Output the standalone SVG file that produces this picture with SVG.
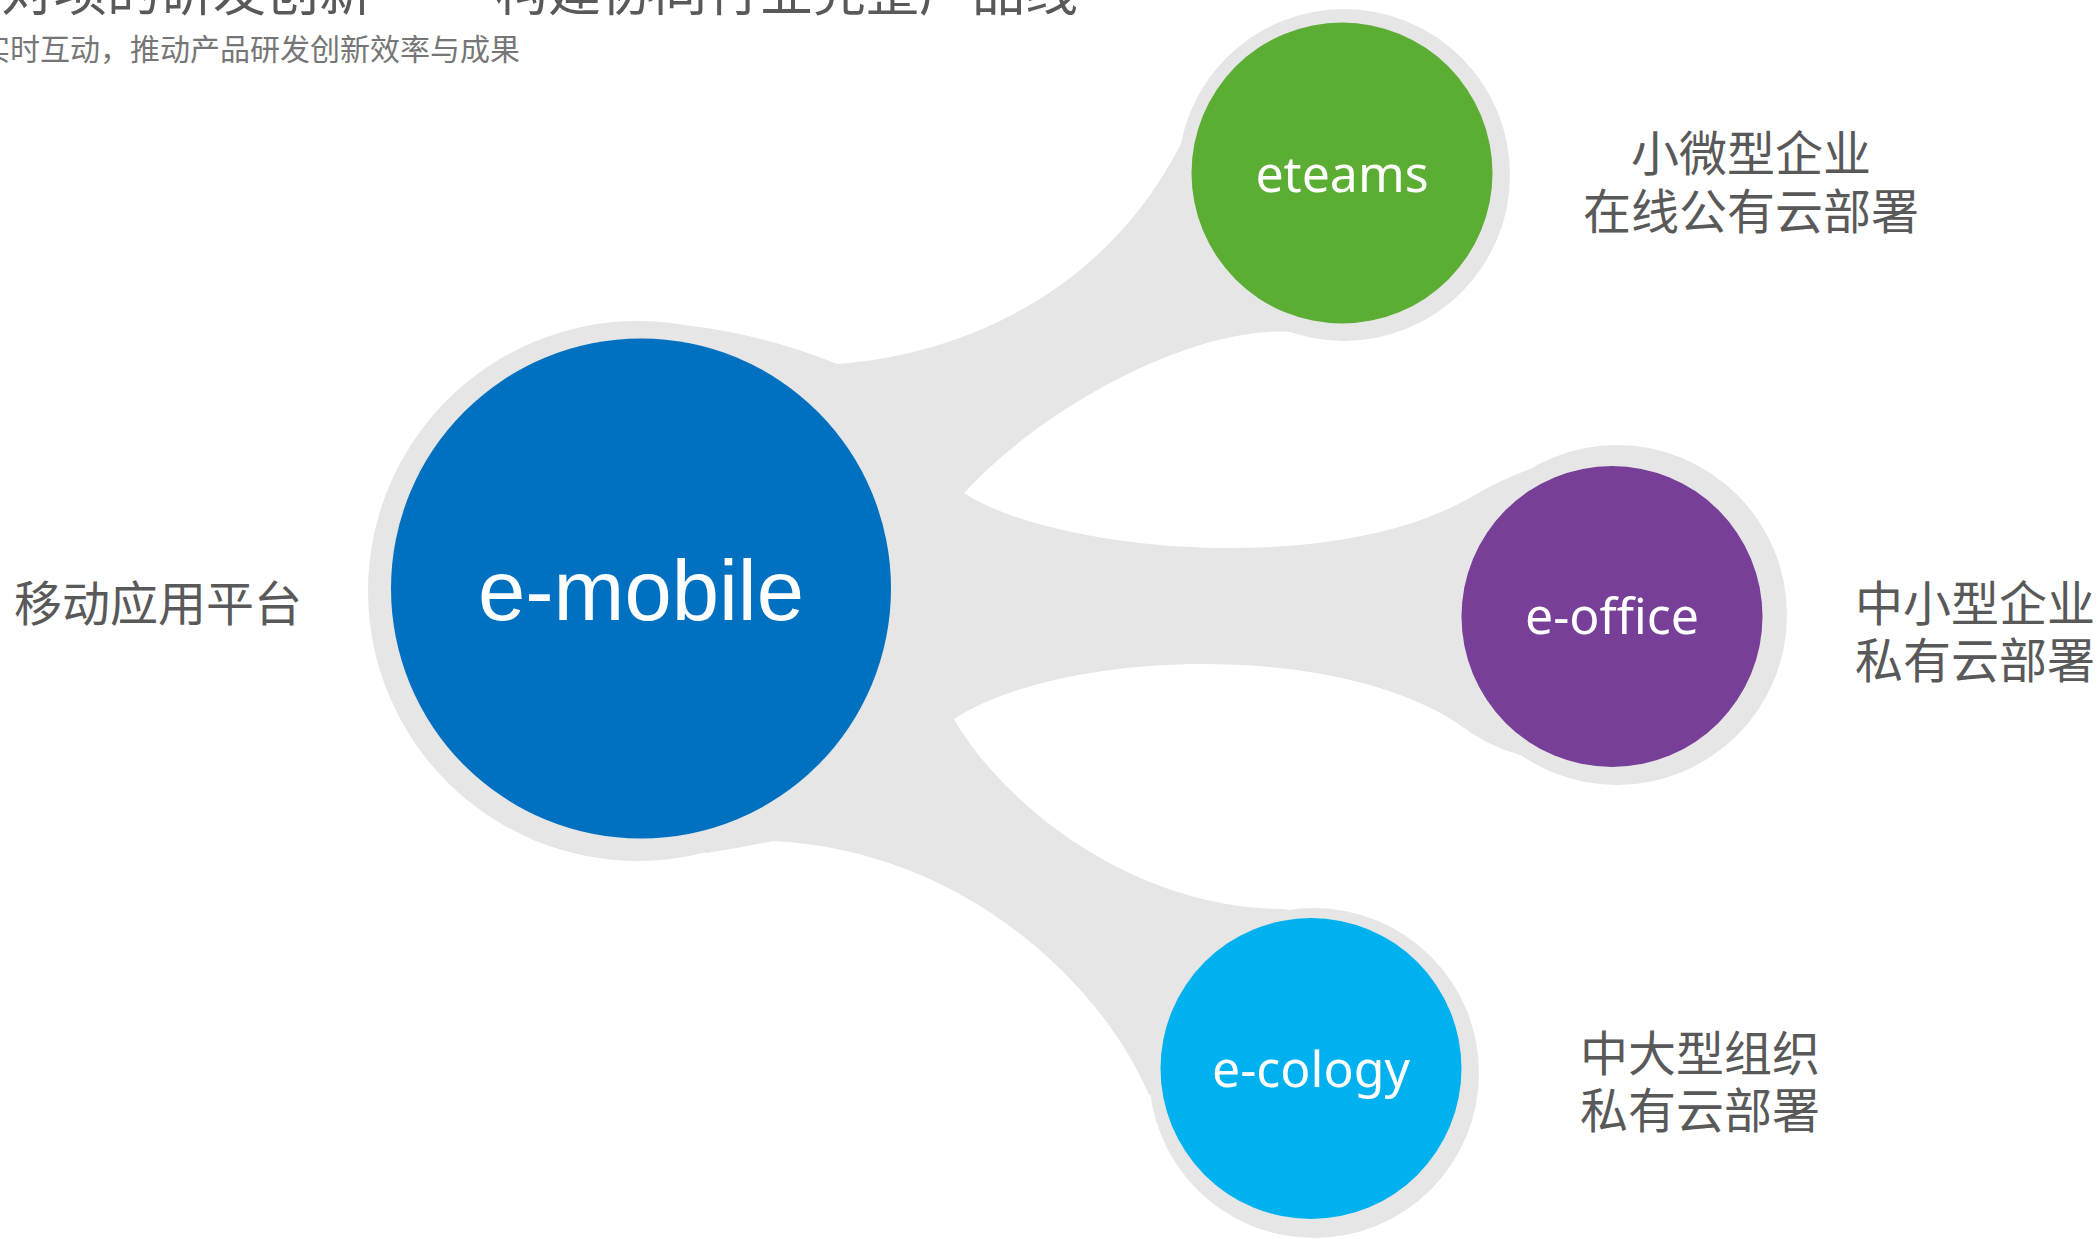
<svg xmlns="http://www.w3.org/2000/svg" width="2100" height="1239" viewBox="0 0 2100 1239">
  <style>
    .halo { fill: #e6e6e6; }
    .conn { fill: #e6e6e6; stroke: none; }
    .lbl { font-family: "Noto Sans CJK SC", "Noto Sans", sans-serif; font-size: 48px; fill: #595959; text-anchor: middle; }
    .node-txt { font-family: "Noto Sans", "Open Sans", sans-serif; font-size: 50px; fill: #ffffff; text-anchor: middle; }
    .title { font-family: "Noto Sans CJK SC", sans-serif; font-size: 53px; fill: #595959; }
    .sub { font-family: "Noto Sans CJK SC", sans-serif; font-size: 30px; fill: #767676; }
  </style>
  <rect width="2100" height="1239" fill="#ffffff"/>

  <g id="header">
    <text class="title" x="372" y="11" text-anchor="end">对项的研发创新</text>
    <text class="title" x="495" y="11">构建协同行业完整产品线</text>
    <text class="sub" x="520" y="60" text-anchor="end">实时互动，推动产品研发创新效率与成果</text>
  </g>

  <g id="connectors">
    <path class="conn" d="M 682,325 Q 760,333 837,364 C 950,356 1110,300 1189,127 L 1344,175 L 1292,332 C 1200,325 1050,400 964,493 C 1050,550 1330,580 1473,496 Q 1500,480 1530,469 L 1617,615 L 1520,755 Q 1485,745 1457,723 C 1330,640 1060,650 954,719 C 1000,800 1130,910 1287,909 L 1314,1073 L 1149,1095 C 1100,980 960,850 773,841 Q 740,848 706,853 L 638,591 Z"/>
  </g>

  <g id="node-emobile">
    <circle class="halo" cx="638" cy="591" r="270"/>
    <circle cx="641" cy="588.5" r="250" fill="#0070c0"/>
    <text x="641" y="620" font-family="'Liberation Sans', Arial, sans-serif" font-size="85" fill="#ffffff" text-anchor="middle">e-mobile</text>
  </g>

  <g id="node-eteams">
    <circle class="halo" cx="1344" cy="175" r="166"/>
    <circle cx="1342" cy="173" r="150.5" fill="#5cad33"/>
    <text class="node-txt" x="1342" y="192">eteams</text>
  </g>

  <g id="node-eoffice">
    <circle class="halo" cx="1617" cy="615" r="170"/>
    <circle cx="1612" cy="616.5" r="150.5" fill="#783f99"/>
    <text class="node-txt" x="1612" y="634">e-office</text>
  </g>

  <g id="node-ecology">
    <circle class="halo" cx="1314" cy="1073" r="165"/>
    <circle cx="1311" cy="1068.5" r="150.5" fill="#00b1f0"/>
    <text class="node-txt" x="1311" y="1087">e-cology</text>
  </g>

  <g id="label-emobile">
    <text class="lbl" x="158" y="621">移动应用平台</text>
  </g>
  <g id="label-eteams">
    <text class="lbl" x="1751" y="171">小微型企业</text>
    <text class="lbl" x="1751" y="229">在线公有云部署</text>
  </g>
  <g id="label-eoffice">
    <text class="lbl" x="1975" y="621">中小型企业</text>
    <text class="lbl" x="1975" y="678">私有云部署</text>
  </g>
  <g id="label-ecology">
    <text class="lbl" x="1700" y="1071">中大型组织</text>
    <text class="lbl" x="1700" y="1128">私有云部署</text>
  </g>
</svg>
